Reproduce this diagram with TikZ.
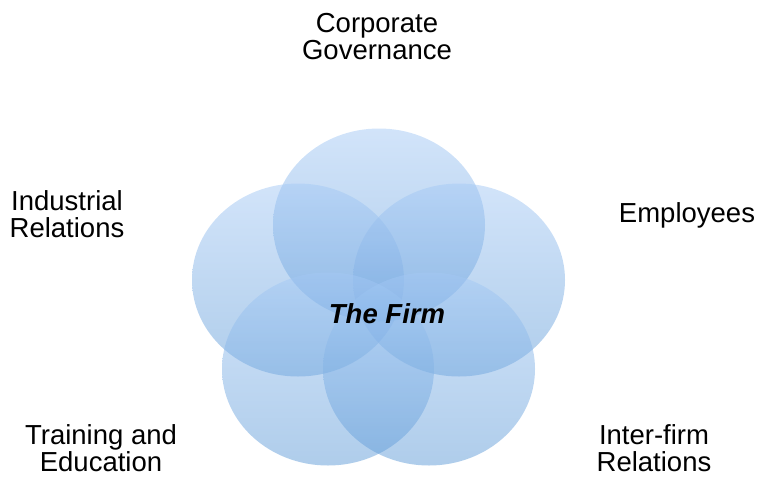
\documentclass[tikz,border=0pt]{standalone}
\usepackage{fontspec}
\setmainfont{Liberation Sans}
\usetikzlibrary{shapes.geometric}
\definecolor{petaltop}{RGB}{165,201,245}
\definecolor{petalbot}{RGB}{95,155,215}
\begin{document}
\begin{tikzpicture}[x=1pt,y=-1pt,
  petal/.style={ellipse,minimum width=212pt,minimum height=193pt,inner sep=0pt,
    top color=petaltop,bottom color=petalbot,fill opacity=0.5,draw=none},
  label/.style={align=center,font=\fontsize{27.5}{27}\selectfont,text=black,inner sep=0pt}]
  \useasboundingbox (0,0) rectangle (757,477);
  % five overlapping petals
  \node[petal] (top)   at (379,225) {};
  \node[petal] (left)  at (298,280) {};
  \node[petal] (right) at (459,280) {};
  \node[petal] (botl)  at (328,369) {};
  \node[petal] (botr)  at (429,369) {};
  % centre
  \node[label,font=\fontsize{27.5}{27}\selectfont\bfseries\itshape] (firm) at (387,314) {The Firm};
  % surrounding labels
  \node[label] (cg)  at (377,37)  {Corporate\\Governance};
  \node[label] (ir)  at (67,214)  {Industrial\\Relations};
  \node[label] (emp) at (687,215) {Employees};
  \node[label] (te)  at (101,448) {Training and\\Education};
  \node[label] (ifr) at (654,448) {Inter-firm\\Relations};
\end{tikzpicture}
\end{document}
